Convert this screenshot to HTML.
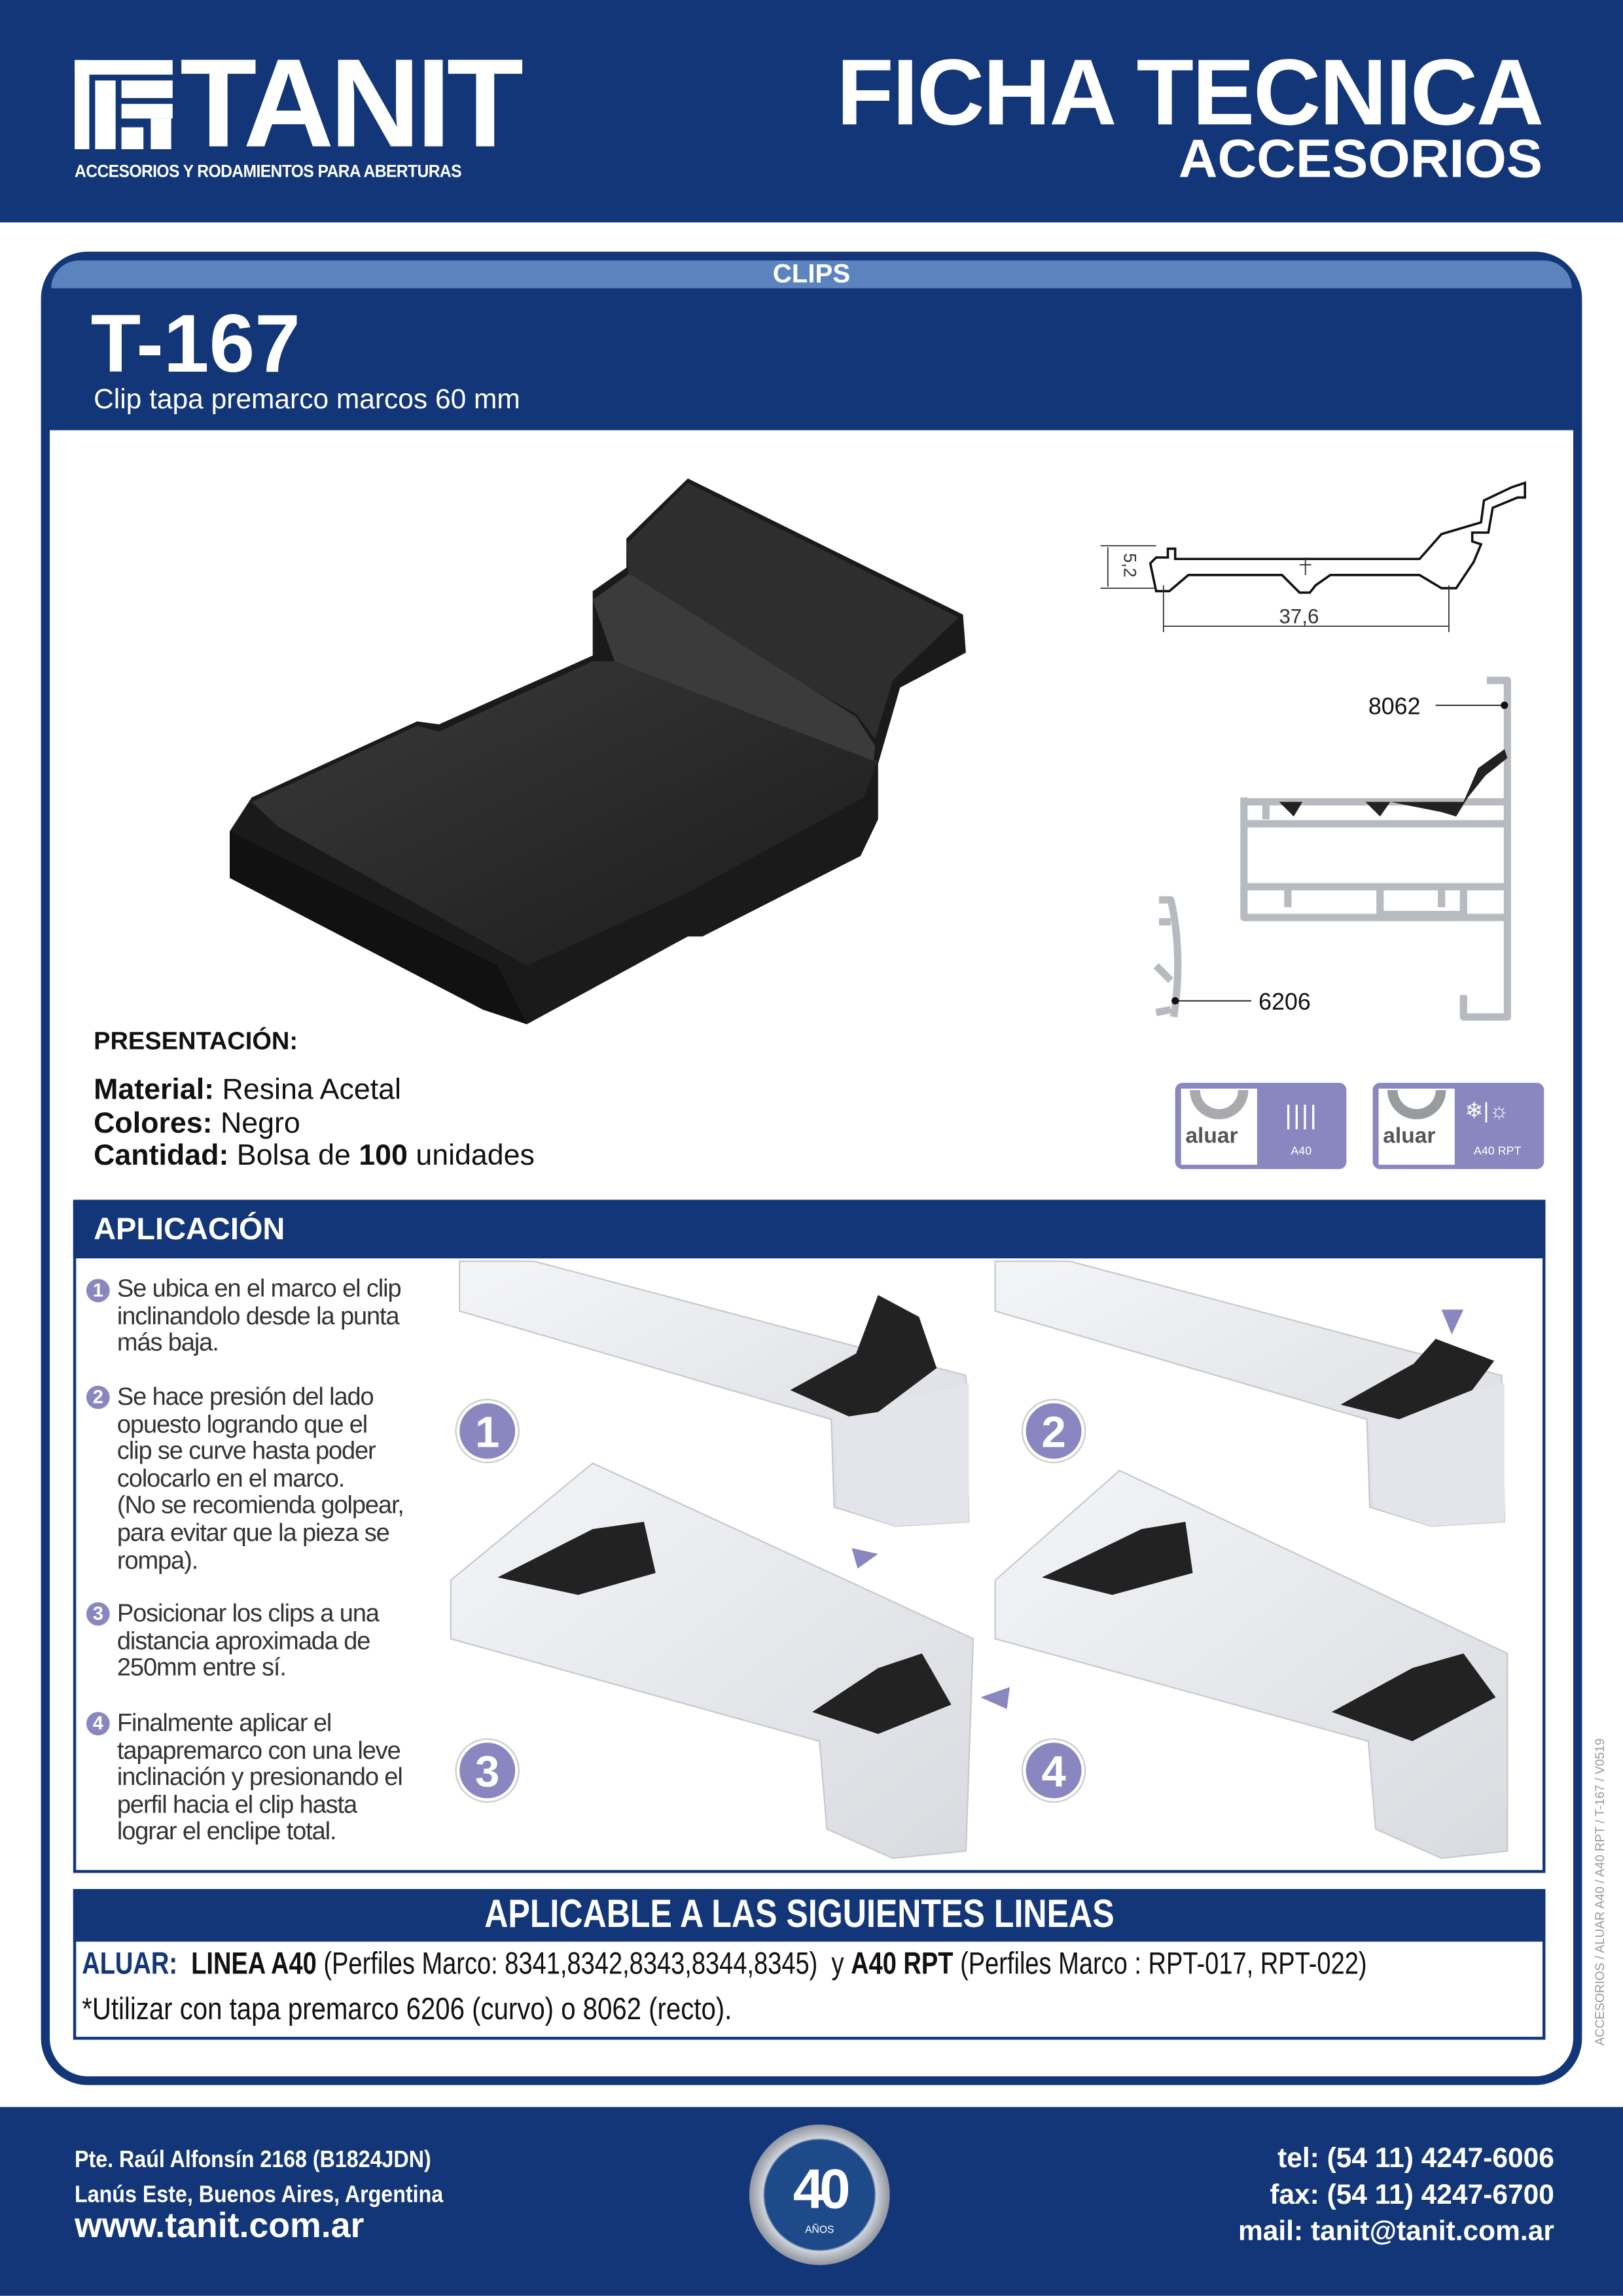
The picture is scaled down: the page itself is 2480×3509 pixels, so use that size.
<!DOCTYPE html>
<html><head><meta charset="utf-8"><style>
*{margin:0;padding:0;box-sizing:border-box}
html,body{width:2480px;height:3508px;overflow:hidden;background:#fff}
#s{position:absolute;left:0;top:0;width:1109px;height:1569px;transform:scale(2.23625);transform-origin:0 0;font-family:"Liberation Sans",sans-serif}
.a{position:absolute}
.n{font-family:"Liberation Sans Narrow","Liberation Sans",sans-serif}
.nav{background:#123677}
.w{color:#fff}
.txt{font-size:17px;line-height:18.6px;color:#333;letter-spacing:-0.5px}
.num{position:absolute;width:16px;height:16px;border-radius:50%;background:#8a87c0;color:#fff;font-size:13px;font-weight:bold;text-align:center;line-height:16px}
.big{position:absolute;width:42px;height:42px;border-radius:50%;background:#8a87c0;color:#fff;font-size:30px;font-weight:bold;text-align:center;line-height:42px;border:2px solid #fff;box-shadow:0 0 0 1px #ccc}
</style></head><body><div id="s">
<div class="a nav" style="left:0;top:0;width:1109px;height:152px"></div>
<div class="a" style="left:51px;top:41px;width:67px;height:61px">
<svg width="67" height="61"><rect x="0" y="0" width="67" height="10" fill="#fff"/><rect x="0" y="0" width="10" height="61" fill="#fff"/><rect x="14" y="14" width="14" height="47" fill="#fff"/><rect x="32" y="14" width="35" height="12" fill="#fff"/><rect x="32" y="30" width="35" height="10" fill="#fff"/><rect x="52" y="40" width="14" height="21" fill="#fff"/><rect x="32" y="46" width="15" height="15" fill="#fff"/></svg></div>
<div class="a w" style="left:123px;top:26px;font-size:86px;font-weight:bold;letter-spacing:-3px;line-height:90px">TANIT</div>
<div class="a w" style="left:51px;top:110px;font-size:12px;font-weight:bold;letter-spacing:-0.3px;transform:scaleX(0.92);transform-origin:0 0;white-space:nowrap">ACCESORIOS Y RODAMIENTOS PARA ABERTURAS</div>
<div class="a w" style="right:55px;top:28px;font-size:64px;font-weight:bold;letter-spacing:-1px;line-height:70px">FICHA TECNICA</div>
<div class="a w" style="right:55px;top:88px;font-size:37px;font-weight:bold;line-height:42px">ACCESORIOS</div>
<div class="a" style="left:28px;top:172px;width:1053px;height:1253px;border:7px solid #123677;border-radius:32px;background:#fff"></div>
<div class="a" style="left:31px;top:175px;width:1047px;height:122px;background:#123677;border-radius:28px 28px 0 0"></div>
<div class="a" style="left:35px;top:178px;width:1039px;height:19px;background:#5b84be;border-radius:24px 24px 0 0"></div>
<div class="a w" style="left:0;width:1109px;top:177px;text-align:center;font-size:18px;font-weight:bold">CLIPS</div>
<div class="a w" style="left:62px;top:203px;font-size:56px;font-weight:bold;line-height:64px">T-167</div>
<div class="a w" style="left:64px;top:263px;font-size:19px">Clip tapa premarco marcos 60 mm</div>
<div class="a" style="left:34px;top:294px;width:1041px;height:1125px;background:#fff;border-radius:0 0 26px 26px"></div>
<svg class="a" style="left:140px;top:310px" width="540" height="400" viewBox="140 310 540 400">
<defs><linearGradient id="g1" x1="0" y1="0" x2="1" y2="1"><stop offset="0" stop-color="#3a3a3a"/><stop offset="1" stop-color="#1b1b1b"/></linearGradient></defs>
<polygon fill="#1a1a1a" points="157,568 172,545 285,493 300,495 405,448 405,404 428,388 428,368 470,327 658,420 660,446 615,470 600,522 600,560 588,585 480,640 470,640 360,700 330,690 157,600"/>
<polygon fill="url(#g1)" points="172,548 285,496 300,500 405,452 420,452 600,520 590,545 470,610 360,660 190,565"/>
<polygon fill="#2e2e2e" points="428,372 470,330 655,422 610,465 598,505 585,488 430,400"/>
<polygon fill="#3b3b3b" points="405,410 430,392 585,490 598,510 597,520 420,452"/>
<polygon fill="#111" points="157,568 340,660 360,700 330,690 157,600"/>
</svg>
<svg class="a" style="left:740px;top:310px" width="340" height="400" viewBox="740 310 340 400" fill="none">
<path d="M790,381 L798,381 L798,375 L803,375 L803,382 L970,382 L985,365 L1012,357 L1014,342 L1033,333 L1042,330 L1042,340 L1037,340 L1020,347 L1017,364 L1006,364 L1006,370 L1012,372 L1007,384 L995,402 L985,402 L970,393 L909,393 L899,400 L895,405 L888,405 L876,393 L812,393 L799,404 L790,404 L786,385 Z" stroke="#111" stroke-width="1.6"/>
<path d="M752,373 L790,373 M752,402 L790,402 M757,374 V401 M795,400 V432 M990,400 V432 M795,428 H990 M888,386 H896 M892,381 V393" stroke="#333" stroke-width="0.8"/>
<text x="752" y="378" font-size="12" fill="#333" stroke="none" transform="rotate(90 760 386)" font-family="Liberation Sans">5,2</text>
<text x="874" y="426" font-size="14" fill="#333" stroke="none" font-family="Liberation Sans">37,6</text>
<g stroke="#b7bbc0" stroke-width="5" stroke-linejoin="round">
<path d="M1016,465 H1030 V695 H1000 V680"/><path d="M850,545 V627 H1030 M850,548 H1030 M850,563 H1030 M850,606 H1030 M880,606 V620 M943,606 V625 H1000 V606 M985,606 V620 M865,550 V560"/>
<path d="M792,615 H800 C806,640 806,670 802,695 M792,630 H800 M790,660 L800,670 M790,692 L800,690"/>
</g>
<path d="M878,548 L1000,548 L1010,525 L1028,512 L1030,518 L1015,530 L1003,545 L995,558 L985,555 L950,548 L943,558 L933,548 L890,548 L884,558 L874,548 Z" fill="#222"/>
<path d="M981,482 H1027 M803,684 H855" stroke="#111" stroke-width="0.8"/>
<circle cx="1028" cy="482" r="2.5" fill="#111"/><circle cx="803" cy="684" r="2.5" fill="#111"/>
<text x="935" y="488" font-size="16" fill="#111" stroke="none" font-family="Liberation Sans">8062</text>
<text x="860" y="690" font-size="16" fill="#111" stroke="none" font-family="Liberation Sans">6206</text>
</svg>
<div class="a" style="left:803px;top:740px;width:117px;height:59px;background:#8a87c0;border-radius:5px"></div>
<div class="a" style="left:807px;top:744px;width:52px;height:52px;background:#fff"></div>
<div class="a" style="left:813px;top:745px;width:40px;height:20px;border:7px solid #a9aaad;border-top:none;border-radius:0 0 20px 20px"></div>
<div class="a" style="left:810px;top:768px;font-size:15px;font-weight:bold;color:#555">aluar</div>
<div class="a w" style="left:878px;top:752px;font-size:18px;letter-spacing:1px">||||</div>
<div class="a w" style="left:882px;top:782px;font-size:8px">A40</div>
<div class="a" style="left:938px;top:740px;width:117px;height:59px;background:#8a87c0;border-radius:5px"></div>
<div class="a" style="left:942px;top:744px;width:52px;height:52px;background:#fff"></div>
<div class="a" style="left:948px;top:745px;width:40px;height:20px;border:7px solid #999c9e;border-top:none;border-radius:0 0 20px 20px"></div>
<div class="a" style="left:945px;top:768px;font-size:15px;font-weight:bold;color:#555">aluar</div>
<div class="a w" style="left:1001px;top:750px;font-size:15px">❄|☼</div>
<div class="a w" style="left:1007px;top:782px;font-size:8px">A40 RPT</div>
<div class="a" style="left:64px;top:702px;font-size:17px;font-weight:bold;color:#111">PRESENTACIÓN:</div>
<div class="a" style="left:64px;top:734px;font-size:20px;line-height:22.5px;color:#111"><b>Material:</b> Resina Acetal<br><b>Colores:</b> Negro<br><b>Cantidad:</b> Bolsa de <b>100</b> unidades</div>
<div class="a" style="left:50px;top:820px;width:1006px;height:460px;border:2px solid #123677"></div>
<div class="a nav" style="left:50px;top:820px;width:1006px;height:40px"></div>
<div class="a w" style="left:64px;top:829px;font-size:21px;font-weight:bold">APLICACIÓN</div>
<div class="num" style="left:59px;top:874px">1</div>
<div class="a txt" style="left:80px;top:872px">Se ubica en el marco el clip<br>inclinandolo desde la punta<br>más baja.</div>
<div class="num" style="left:59px;top:947px">2</div>
<div class="a txt" style="left:80px;top:946px">Se hace presión del lado<br>opuesto logrando que el<br>clip se curve hasta poder<br>colocarlo en el marco.<br>(No se recomienda golpear,<br>para evitar que la pieza se<br>rompa).</div>
<div class="num" style="left:59px;top:1095px">3</div>
<div class="a txt" style="left:80px;top:1094px">Posicionar los clips a una<br>distancia aproximada de<br>250mm entre sí.</div>
<div class="num" style="left:59px;top:1170px">4</div>
<div class="a txt" style="left:80px;top:1169px">Finalmente aplicar el<br>tapapremarco con una leve<br>inclinación y presionando el<br>perfil hacia el clip hasta<br>lograr el enclipe total.</div>
<svg class="a" style="left:305px;top:861px" width="748" height="416" viewBox="305 861 748 416">
<defs><linearGradient id="al" x1="0" y1="0" x2="1" y2="1"><stop offset="0" stop-color="#f4f5f8"/><stop offset="1" stop-color="#d9dbe0"/></linearGradient></defs>
<polygon fill="url(#al)" stroke="#c7c9ce" stroke-width="1" points="314,862 365,862 660,940 662,1040 612,1043 570,1030 568,970 314,896"/>
<polygon fill="#e3e5ea" points="570,968 662,945 662,1040 612,1043 572,1030"/>
<polygon fill="#222" points="540,950 585,925 600,885 628,900 640,935 600,965 580,968"/>
<g transform="translate(366,0)">
<polygon fill="url(#al)" stroke="#c7c9ce" stroke-width="1" points="314,862 365,862 660,940 662,1040 612,1043 570,1030 568,970 314,896"/>
<polygon fill="#e3e5ea" points="570,968 662,945 662,1040 612,1043 572,1030"/>
<polygon fill="#222" points="550,960 600,932 615,915 655,930 640,950 590,970"/>
</g>
<polygon fill="#8a87c0" points="985,895 1000,895 992,912"/>
<polygon fill="url(#al)" stroke="#c7c9ce" points="308,1080 405,1000 665,1120 660,1265 610,1270 565,1250 560,1190 308,1120"/>
<polygon fill="#222" points="340,1078 405,1045 440,1040 448,1075 395,1090"/>
<polygon fill="#222" points="555,1170 600,1140 630,1130 650,1165 600,1185"/>
<polygon fill="#8a87c0" points="582,1058 600,1062 586,1072"/>
<polygon fill="#8a87c0" points="670,1160 690,1153 688,1168"/>
<polygon fill="url(#al)" stroke="#c7c9ce" points="680,1080 765,1005 1030,1130 1030,1265 985,1270 940,1250 935,1190 680,1120"/>
<polygon fill="#222" points="712,1078 780,1045 810,1040 815,1075 760,1090"/>
<polygon fill="#222" points="910,1170 965,1140 1000,1130 1022,1160 965,1190"/>
</svg>
<div class="big" style="left:312px;top:957px">1</div>
<div class="big" style="left:699px;top:957px">2</div>
<div class="big" style="left:312px;top:1189px">3</div>
<div class="big" style="left:699px;top:1189px">4</div>
<div class="a" style="left:50px;top:1291px;width:1006px;height:103px;border:2px solid #123677"></div>
<div class="a nav" style="left:50px;top:1291px;width:1006px;height:36px"></div>
<div class="a w" style="left:331px;top:1293px;font-size:27px;font-weight:bold;transform:scaleX(0.83);transform-origin:0 0;white-space:nowrap">APLICABLE A LAS SIGUIENTES LINEAS</div>
<div class="a" style="left:56px;top:1331px;font-size:21px;color:#111;white-space:nowrap;transform:scaleX(0.81);transform-origin:0 0"><b style="color:#123677">ALUAR:</b>&nbsp; <b>LINEA A40</b> (Perfiles Marco: 8341,8342,8343,8344,8345)&nbsp; y <b>A40 RPT</b> (Perfiles Marco : RPT-017, RPT-022)</div>
<div class="a" style="left:56px;top:1362px;font-size:21px;color:#111;white-space:nowrap;transform:scaleX(0.855);transform-origin:0 0">*Utilizar con tapa premarco 6206 (curvo) o 8062 (recto).</div>
<div class="a" style="left:1088px;top:1398px;font-size:8.5px;color:#999;transform:rotate(-90deg);transform-origin:0 0;white-space:nowrap">ACCESORIOS / ALUAR A40 /  A40 RPT / T-167  / V0519</div>
<div class="a nav" style="left:0;top:1440px;width:1109px;height:129px"></div>
<div class="a w" style="left:51px;top:1465px;font-size:16px;font-weight:bold;line-height:24px;transform:scaleX(0.9);transform-origin:0 0;white-space:nowrap">Pte. Raúl Alfonsín 2168 (B1824JDN)<br>Lanús Este, Buenos Aires, Argentina</div>
<div class="a w" style="left:51px;top:1508px;font-size:24px;font-weight:bold">www.tanit.com.ar</div>
<div class="a w" style="right:47px;top:1463px;font-size:19px;font-weight:bold;line-height:25px;text-align:right">tel: (54 11) 4247-6006<br>fax: (54 11) 4247-6700<br>mail: tanit@tanit.com.ar</div>
<div class="a" style="left:512px;top:1452px;width:96px;height:96px;border-radius:50%;background:radial-gradient(circle,#1f4a8a 0,#1f4a8a 55%,#cfd3da 57%,#8a8f99 72%,#c8ccd3 74%,#123677 80%)"></div>
<div class="a w" style="left:512px;top:1476px;width:96px;text-align:center;font-size:38px;font-weight:bold;letter-spacing:-3px">40</div>
<div class="a w" style="left:512px;top:1521px;width:96px;text-align:center;font-size:7px">AÑOS</div>
</div></body></html>
